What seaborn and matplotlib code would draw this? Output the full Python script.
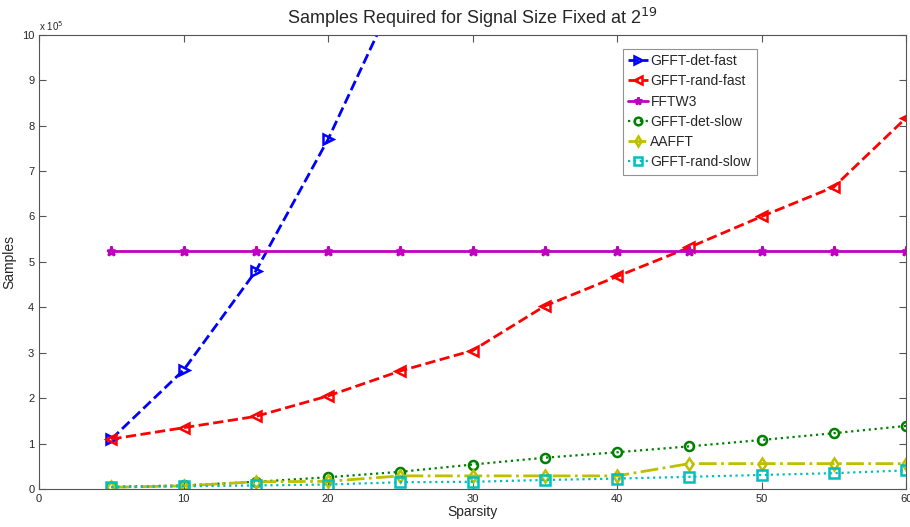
import numpy as np
import pandas as pd
import matplotlib
matplotlib.use('Agg')
import matplotlib.pyplot as plt
import seaborn as sns

# sparsity levels and sample counts (in units of 1e5)
sparsity = [5, 10, 15, 20, 25, 30, 35, 40, 45, 50, 55, 60]
det_fast_x = [5, 10, 15, 20, 25]
det_fast = [1.1, 2.62, 4.8, 7.7, 11.1]
rand_fast = [1.1, 1.35, 1.6, 2.05, 2.6, 3.05, 4.03, 4.68, 5.32, 6.0, 6.65, 8.17]
fftw3 = [5.24288] * 12
det_slow = [0.05, 0.08, 0.16, 0.26, 0.38, 0.54, 0.69, 0.81, 0.94, 1.08, 1.23, 1.39]
aafft = [0.04, 0.07, 0.16, 0.17, 0.29, 0.29, 0.29, 0.29, 0.56, 0.56, 0.56, 0.56]
rand_slow = [0.04, 0.06, 0.08, 0.1, 0.15, 0.16, 0.2, 0.23, 0.27, 0.31, 0.35, 0.41]

sns.set_style('ticks')
plt.rcParams['font.family'] = ['Liberation Sans', 'DejaVu Sans']

fig = plt.figure(figsize=(9.1, 5.27), dpi=100)
ax = fig.add_axes([0.043, 0.072, 0.9527, 0.862])

series = [
    ('GFFT-det-fast', det_fast_x, det_fast, (0, 0, 1), '--', '>', 2.0),
    ('GFFT-rand-fast', sparsity, rand_fast, (1, 0, 0), '--', '<', 2.0),
    ('FFTW3', sparsity, fftw3, (0.75, 0, 0.75), '-', '*', 2.0),
    ('GFFT-det-slow', sparsity, det_slow, (0, 0.5, 0), ':', 'o', 1.6),
    ('AAFFT', sparsity, aafft, (0.75, 0.75, 0), '-.', 'd', 2.0),
    ('GFFT-rand-slow', sparsity, rand_slow, (0, 0.75, 0.75), ':', 's', 1.6),
]

for name, xs, ys, col, ls, mk, lw in series:
    sns.lineplot(x=xs, y=ys, ax=ax, color=col, linestyle=ls, linewidth=lw,
                 marker=mk, markersize=6.5, markerfacecolor='none',
                 markeredgecolor=col, markeredgewidth=1.8, label=name)

ax.set_xlim(0, 60)
ax.set_ylim(0, 10)
ax.set_xticks(range(0, 61, 10))
ax.set_yticks(range(0, 11))
ax.tick_params(direction='in', top=True, right=True, labelsize=8, length=5,
               color='#555555')
for sp in ax.spines.values():
    sp.set_color('#555555')
    sp.set_visible(True)

ax.text(0.0, 1.004, r'x 10$^5$', transform=ax.transAxes, fontsize=7,
        ha='left', va='bottom')
ax.set_title(r'Samples Required for Signal Size Fixed at 2$^{19}$', fontsize=13, pad=8)
ax.set_xlabel('Sparsity', fontsize=10, labelpad=1)
ax.set_ylabel('Samples', fontsize=10, labelpad=4)

leg = ax.legend(loc='upper left', bbox_to_anchor=(0.665, 0.985), fontsize=10,
                frameon=True, fancybox=False, edgecolor='#777777',
                handlelength=1.4, handletextpad=0.2, borderpad=0.4,
                labelspacing=0.45, markerscale=0.85)
leg.get_frame().set_linewidth(0.8)

fig.savefig('out.png', dpi=100)
